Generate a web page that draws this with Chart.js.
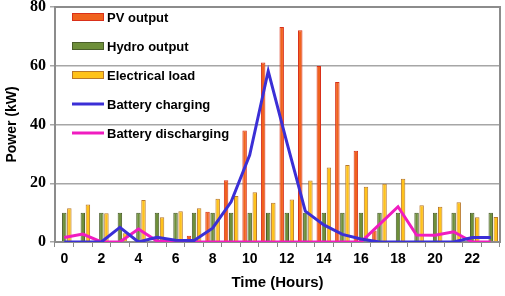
<!DOCTYPE html>
<html>
  <head>
    <script src="https://cdn.jsdelivr.net/npm/chart.js@4"></script>
    <style>
      html, body { margin: 0; padding: 0; background: #fff; }
      #wrap { width: 505px; height: 296px; }
    </style>
  </head>
  <body>
    <div id="wrap"><canvas id="canvas"></canvas></div>
    <script>
      const hours = ['0','1','2','3','4','5','6','7','8','9','10','11','12','13','14','15','16','17','18','19','20','21','22','23'];
      const pvOutput = [0, 0, 0, 0, 0, 0, 0, 2.1, 10.3, 21, 38, 61.1, 73.2, 72.1, 59.9, 54.5, 31.1, 3.9, 0, 0, 0, 0, 0, 0];
      const hydroOutput = [10, 10, 10, 10, 10, 10, 10, 10, 10, 10, 10, 10, 10, 10, 10, 10, 10, 10, 10, 10, 10, 10, 10, 10];
      const electricalLoad = [11.5, 12.8, 9.8, 3, 14.3, 8.4, 10.5, 11.5, 14.7, 15.7, 16.9, 13.4, 14.5, 20.9, 25.4, 26.2, 18.8, 19.8, 21.5, 12.5, 12, 13.5, 8.4, 8.5];
      const batteryCharging = [0, 0, 0, 5, 0, 1.6, 0.6, 0.5, 4.7, 13.7, 29.6, 58.2, 34, 10.5, 5.8, 2.6, 1, 0, 0, 0, 0, 0, 1.5, 1.5];
      const batteryDischarging = [1.5, 2.7, 0, 0, 4.4, 0.3, 0, 0, 0, 0, 0, 0, 0, 0, 0, 0, 0, 6, 12, 2.4, 2.3, 3.5, 0, 0];

      // legend drawn inside the plot area, top-left, one item per row
      const insideLegend = {
        id: 'insideLegend',
        afterDraw(chart) {
          const ctx = chart.ctx;
          const area = chart.chartArea;
          ctx.save();
          // plot frame
          ctx.strokeStyle = '#8c8c8c';
          ctx.lineWidth = 2;
          ctx.beginPath();
          ctx.moveTo(area.left, area.top);
          ctx.lineTo(area.right, area.top);
          ctx.lineTo(area.right, area.bottom);
          ctx.stroke();
          ctx.font = 'bold 13px "Liberation Sans", Arial, sans-serif';
          ctx.textBaseline = 'middle';
          chart.data.datasets.forEach((ds, i) => {
            const y = area.top + 10 + i * 29;
            const x = area.left + 17;
            if (ds.type === 'line') {
              ctx.strokeStyle = ds.borderColor;
              ctx.lineWidth = 3;
              ctx.beginPath();
              ctx.moveTo(x, y);
              ctx.lineTo(x + 32, y);
              ctx.stroke();
            } else {
              ctx.fillStyle = ds.backgroundColor;
              ctx.fillRect(x, y - 4, 32, 8);
              ctx.strokeStyle = ds.borderColor;
              ctx.lineWidth = 1;
              ctx.strokeRect(x + 0.5, y - 3.5, 31, 7);
            }
            ctx.fillStyle = '#000';
            ctx.fillText(ds.label, x + 35, y + 1);
          });
          ctx.restore();
        }
      };

      new Chart(document.getElementById('canvas'), {
        type: 'bar',
        data: {
          labels: hours,
          datasets: [
            { label: 'PV output', data: pvOutput, backgroundColor: '#F0621E', borderColor: '#D9301A', borderWidth: 1, order: 2 },
            { label: 'Hydro output', data: hydroOutput, backgroundColor: '#6E8F3A', borderColor: '#4A5E2A', borderWidth: 1, order: 2 },
            { label: 'Electrical load', data: electricalLoad, backgroundColor: '#FFC21A', borderColor: '#B8782A', borderWidth: 1, order: 2 },
            { type: 'line', label: 'Battery charging', data: batteryCharging, borderColor: '#3B2FD6', backgroundColor: '#3B2FD6', borderWidth: 3, pointRadius: 0, tension: 0, order: 0 },
            { type: 'line', label: 'Battery discharging', data: batteryDischarging, borderColor: '#F01CC0', backgroundColor: '#F01CC0', borderWidth: 3, pointRadius: 0, tension: 0, order: 1 }
          ]
        },
        options: {
          responsive: true,
          maintainAspectRatio: false,
          animation: false,
          layout: { padding: { left: 0, right: 5, top: 7, bottom: 0 } },
          datasets: { bar: { categoryPercentage: 0.82, barPercentage: 0.88 } },
          plugins: {
            legend: { display: false },
            tooltip: { enabled: false }
          },
          scales: {
            x: {
              afterFit: (s) => { s.height = 54; },
              grid: { display: true, drawOnChartArea: false, drawTicks: true, tickLength: 5, color: '#8c8c8c', offset: true },
              border: { display: true, color: '#8c8c8c', width: 2 },
              ticks: {
                autoSkip: false,
                maxRotation: 0,
                padding: 4,
                color: '#000',
                font: { family: '"Liberation Sans", Arial, sans-serif', size: 14, weight: 'bold' },
                callback: (v, i) => (i % 2 === 0 ? hours[i] : '')
              },
              title: {
                display: true,
                text: 'Time (Hours)',
                color: '#000',
                padding: { top: 4 },
                font: { family: '"Liberation Sans", Arial, sans-serif', size: 15, weight: 'bold' }
              }
            },
            y: {
              min: 0,
              max: 80,
              afterFit: (s) => { s.width = 55; s.paddingTop = 0; },
              grid: { color: '#a6a6a6', lineWidth: 1.5, tickLength: 5 },
              border: { display: true, color: '#8c8c8c', width: 2 },
              ticks: {
                stepSize: 20,
                padding: 4,
                color: '#000',
                font: { family: '"Liberation Serif", "Times New Roman", serif', size: 16, weight: 'bold' }
              },
              title: {
                display: true,
                text: 'Power (kW)',
                color: '#000',
                padding: { bottom: 0 },
                font: { family: '"Liberation Sans", Arial, sans-serif', size: 14, weight: 'bold' }
              }
            }
          }
        },
        plugins: [insideLegend]
      });
    </script>
  </body>
</html>
